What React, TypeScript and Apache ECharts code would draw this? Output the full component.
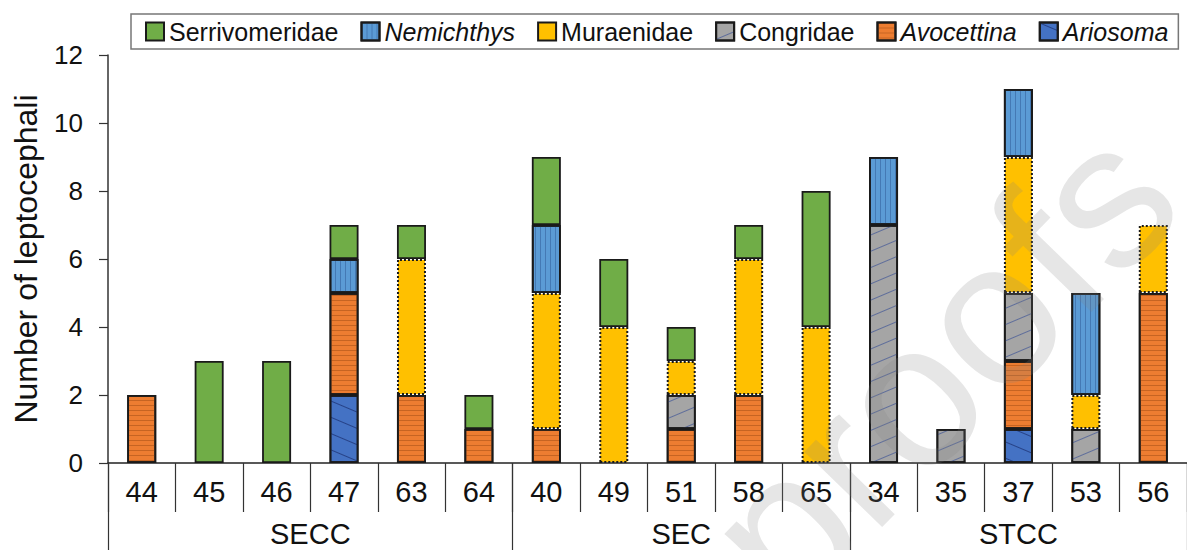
import React, { useEffect, useRef } from "react";
import * as echarts from "echarts";

const stations = ["44", "45", "46", "47", "63", "64", "40", "49", "51", "58", "65", "34", "35", "37", "53", "56"];
const groups = ["SECC", "SEC", "STCC"];
const groupBounds = [0, 6, 11, 16];
const groupCenters = [3, 8.5, 13.5];

// stacked from bottom to top
const ariosoma = [null, null, null, 2, null, null, null, null, null, null, null, null, null, 1, null, null];
const avocettina = [2, null, null, 3, 2, 1, 1, null, 1, 2, null, null, null, 2, null, 5];
const congridae = [null, null, null, null, null, null, null, null, 1, null, null, 7, 1, 2, 1, null];
const muraenidae = [null, null, null, null, 4, null, 4, 4, 1, 4, 4, null, null, 4, 1, 2];
const nemichthys = [null, null, null, 1, null, null, 2, null, null, null, null, 2, null, 2, 3, null];
const serrivomeridae = [null, 3, 3, 1, 1, 1, 2, 2, 1, 1, 4, null, null, null, null, null];

const legendOrder = ["Serrivomeridae", "Nemichthys", "Muraenidae", "Congridae", "Avocettina", "Ariosoma"];
const italicNames = ["Nemichthys", "Avocettina", "Ariosoma"];

const FONT = "'Liberation Sans', Arial, sans-serif";

export default function App() {
  const ref = useRef<HTMLDivElement>(null);
  useEffect(() => {
    if (!ref.current) return;
    const chart = echarts.init(ref.current, null, { renderer: "svg" });

    const mk = (name: string, data: (number | null)[], color: string, extra: any = {}) => ({
      name,
      type: "bar",
      stack: "total",
      data: data.map((v) => (v == null ? "-" : v)),
      barWidth: 29,
      itemStyle: {
        color,
        borderColor: "#1a1a1a",
        borderWidth: 1.8,
        ...extra,
      },
    });

    const series = [
      mk("Ariosoma", ariosoma, "#4472C4", {
        decal: { symbol: "rect", symbolSize: 1, dashArrayX: [1, 0], dashArrayY: [1, 13.5], rotation: 0.4, color: "rgba(25,45,110,0.7)" },
      }),
      mk("Avocettina", avocettina, "#ED7D31", {
        decal: { symbol: "rect", symbolSize: 1, dashArrayX: [1, 0], dashArrayY: [1, 3.3], rotation: 0, color: "rgba(160,75,20,0.5)" },
      }),
      mk("Congridae", congridae, "#A5A5A5", {
        decal: { symbol: "rect", symbolSize: 1, dashArrayX: [1, 0], dashArrayY: [1, 13.5], rotation: -0.4, color: "rgba(70,90,150,0.75)" },
      }),
      mk("Muraenidae", muraenidae, "#FFC000", { borderType: "dotted", borderWidth: 2 }),
      mk("Nemichthys", nemichthys, "#5B9BD5", {
        decal: { symbol: "rect", symbolSize: 1, dashArrayX: [1, 3.7], dashArrayY: [1, 0], rotation: 0, color: "rgba(40,80,140,0.45)" },
      }),
      mk("Serrivomeridae", serrivomeridae, "#70AD47"),
    ];

    chart.setOption({
      animation: false,
      textStyle: { fontFamily: FONT },
      grid: { left: 108, top: 55, width: 1090, height: 408, containLabel: false },
      legend: {
        data: legendOrder,
        left: 131,
        top: 14,
        itemWidth: 18,
        itemHeight: 18,
        itemGap: 22,
        icon: "rect",
        padding: [5, 10, 5, 14],
        borderColor: "#777",
        borderWidth: 1.5,
        backgroundColor: "#fff",
        textStyle: {
          fontSize: 25,
          color: "#111",
          fontFamily: FONT,
          rich: { i: { fontStyle: "italic", fontSize: 25, color: "#111", fontFamily: FONT } },
        },
        formatter: (name: string) => (italicNames.includes(name) ? `{i|${name}}` : name),
      },
      xAxis: [
        {
          type: "category",
          data: stations,
          position: "bottom",
          axisLine: { show: true, lineStyle: { color: "#222", width: 1.5 } },
          axisTick: { show: true, interval: 0, length: 49, lineStyle: { color: "#333", width: 1.2 } },
          axisLabel: { interval: 0, fontSize: 29, color: "#111", margin: 14, fontFamily: FONT },
          splitLine: { show: false },
        },
        {
          type: "value",
          min: 0,
          max: 16,
          position: "bottom",
          axisLine: { show: false },
          axisTick: { show: true, customValues: groupBounds, length: 90, lineStyle: { color: "#333", width: 1.2 } },
          axisLabel: {
            show: true,
            customValues: groupCenters,
            margin: 56,
            fontSize: 29,
            color: "#111",
            fontFamily: FONT,
            formatter: (v: number) => groups[groupCenters.indexOf(v)] ?? "",
          },
          splitLine: { show: false },
        },
      ],
      yAxis: {
        type: "value",
        min: 0,
        max: 12,
        interval: 2,
        name: "Number of leptocephali",
        nameLocation: "middle",
        nameGap: 66,
        nameTextStyle: { fontSize: 32, color: "#111", fontFamily: FONT },
        axisLine: { show: true, lineStyle: { color: "#333", width: 1.5 } },
        axisTick: { show: true, length: 9, lineStyle: { color: "#333", width: 1.2 } },
        axisLabel: { fontSize: 26, color: "#111", margin: 25, fontFamily: FONT },
        splitLine: { show: false },
      },
      series,
      graphic: [
        {
          type: "text",
          x: 940,
          y: 365,
          rotation: 0.8,
          z: 100,
          silent: true,
          style: {
            text: "proofs",
            fontSize: 205,
            fontFamily: FONT,
            fill: "rgba(128,128,128,0.2)",
            align: "center",
            verticalAlign: "middle",
          },
        },
      ],
    });
    return () => chart.dispose();
  }, []);
  return <div ref={ref} style={{ position: "fixed", left: 0, top: 0, width: 1187, height: 550, background: "#fff" }} />;
}
